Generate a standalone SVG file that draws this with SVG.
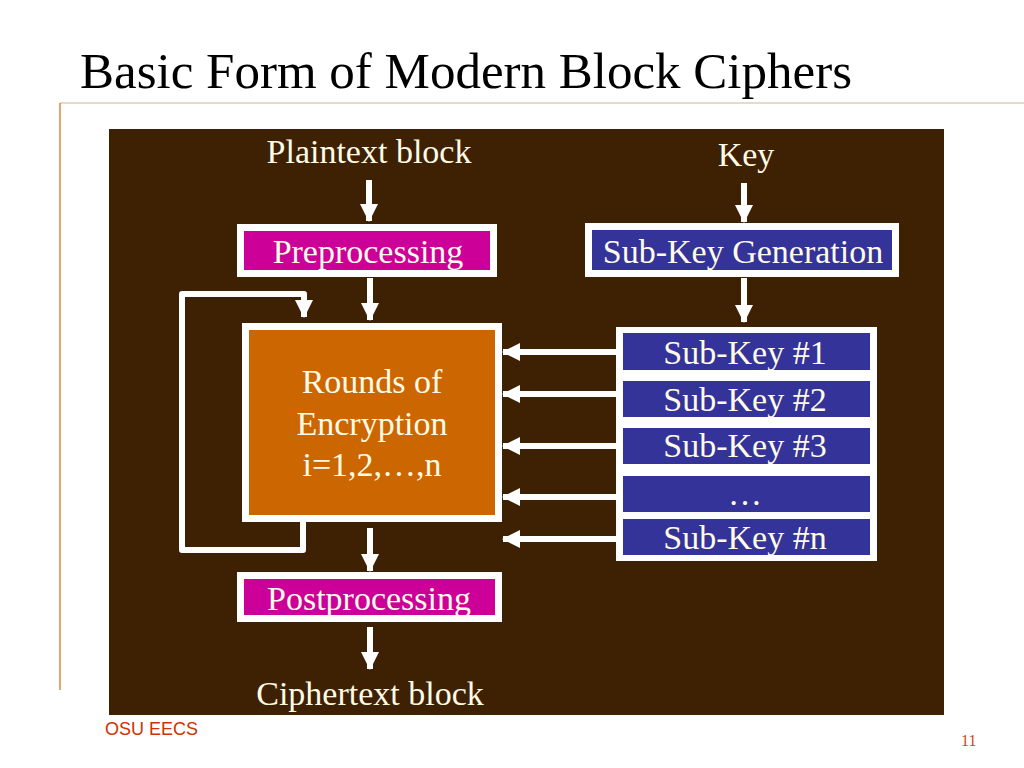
<svg xmlns="http://www.w3.org/2000/svg" width="1024" height="768" viewBox="0 0 1024 768">
<defs>
<marker id="ah" viewBox="0 0 18 18" refX="17" refY="9" markerWidth="18" markerHeight="18" markerUnits="userSpaceOnUse" orient="auto">
<path d="M0,0 L18,9 L0,18 z" fill="#ffffff"/>
</marker>
<style>
.t{font-family:"Liberation Serif","Times New Roman",serif;fill:#fffbe6;font-size:34px;text-anchor:middle}
.c{stroke:#ffffff;stroke-width:6;fill:none}
.box{stroke:#ffffff;stroke-width:7}
.mag{fill:#cc0099}
.blu{fill:#333399}
.org{fill:#cc6600}
</style>
</defs>
<rect x="0" y="0" width="1024" height="768" fill="#ffffff"/>
<line x1="60" y1="103" x2="1024" y2="103" stroke="#e8c8b0" stroke-width="1.5"/>
<line x1="60" y1="103" x2="60" y2="690" stroke="#d9844a" stroke-width="1.5"/>
<text x="80" y="88" font-family="Liberation Serif, Times New Roman, serif" font-size="51" fill="#000000">Basic Form of Modern Block Ciphers</text>
<rect x="109" y="129" width="835" height="586" fill="#3d2102"/>

<g id="plaintext"><text class="t" x="369" y="163">Plaintext block</text></g>
<g id="key"><text class="t" x="746" y="166">Key</text></g>
<g id="preprocessing"><rect class="box mag" x="240.500" y="227.500" width="253" height="46"/><text class="t" x="368" y="263">Preprocessing</text></g>
<g id="subkeygen"><rect class="box blu" x="588.500" y="226.500" width="307" height="47"/><text class="t" x="743" y="263">Sub-Key Generation</text></g>
<g id="rounds"><rect class="box org" x="245.500" y="326.500" width="253" height="192"/>
<text class="t" x="372" y="393">Rounds of</text><text class="t" x="372" y="435">Encryption</text><text class="t" x="372" y="476">i=1,2,…,n</text></g>
<g id="postprocessing"><rect class="box mag" x="240.500" y="575.500" width="258" height="43"/><text class="t" x="369" y="610">Postprocessing</text></g>
<g id="ciphertext"><text class="t" x="370" y="705">Ciphertext block</text></g>
<g id="subkeys">
<rect x="616" y="327" width="261" height="234" fill="#ffffff"/>
<rect class="blu" x="623" y="333" width="247" height="37"/><text class="t" x="745" y="364">Sub-Key #1</text>
<rect class="blu" x="623" y="381" width="247" height="36"/><text class="t" x="745" y="411">Sub-Key #2</text>
<rect class="blu" x="623" y="428" width="247" height="36"/><text class="t" x="745" y="457">Sub-Key #3</text>
<rect class="blu" x="623" y="476" width="247" height="36"/><text class="t" x="745" y="505">…</text>
<rect class="blu" x="623" y="519" width="247" height="36"/><text class="t" x="745" y="549">Sub-Key #n</text>
</g>
<g id="connectors">
<line class="c" x1="369" y1="180" x2="369" y2="221" marker-end="url(#ah)"/>
<line class="c" x1="744" y1="183" x2="744" y2="222" marker-end="url(#ah)"/>
<line class="c" x1="370" y1="278" x2="370" y2="320" marker-end="url(#ah)"/>
<line class="c" x1="744" y1="278" x2="744" y2="322" marker-end="url(#ah)"/>
<line class="c" x1="370" y1="528" x2="370" y2="571" marker-end="url(#ah)"/>
<line class="c" x1="370" y1="627" x2="370" y2="669" marker-end="url(#ah)"/>
<path class="c" d="M303,522 L303,550 L182,550 L182,294 L304,294 L304,317" stroke-linejoin="round" marker-end="url(#ah)"/>
<line class="c" x1="616" y1="352" x2="503" y2="352" marker-end="url(#ah)"/>
<line class="c" x1="616" y1="394" x2="503" y2="394" marker-end="url(#ah)"/>
<line class="c" x1="616" y1="446" x2="503" y2="446" marker-end="url(#ah)"/>
<line class="c" x1="616" y1="497" x2="503" y2="497" marker-end="url(#ah)"/>
<line class="c" x1="616" y1="539" x2="503" y2="539" marker-end="url(#ah)"/>
</g>
<text x="105" y="735" font-family="Liberation Sans, Arial, sans-serif" font-size="18" fill="#cc3300" textLength="93" lengthAdjust="spacingAndGlyphs">OSU EECS</text>
<text x="961" y="746" font-family="Liberation Serif, Times New Roman, serif" font-size="16" fill="#cc4a1a">11</text>
</svg>
